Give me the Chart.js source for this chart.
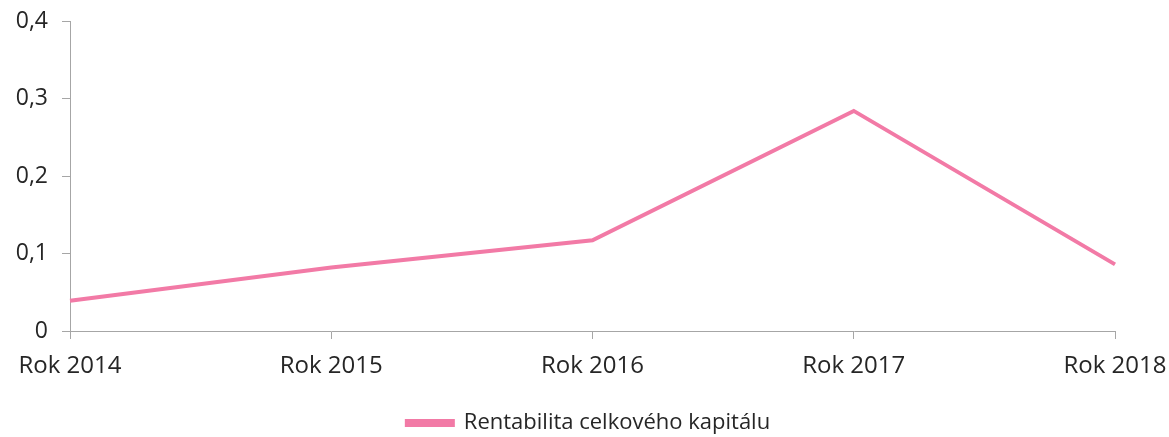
<!DOCTYPE html>
<html>
<head>
<meta charset="utf-8">
<script src="https://cdn.jsdelivr.net/npm/chart.js@4/dist/chart.umd.min.js"></script>
<style>
  html, body { margin: 0; padding: 0; background: #fff; }
  #wrap { width: 1169px; height: 437px; }
</style>
</head>
<body>
<div id="wrap"><canvas id="chart"></canvas></div>
<script>
const years = ["Rok 2014", "Rok 2015", "Rok 2016", "Rok 2017", "Rok 2018"];
const rentabilita = [0.039, 0.082, 0.117, 0.284, 0.086];
const seriesName = "Rentabilita celkového kapitálu";

const axisGray = "#a6a6a6";
const textColor = "#262626";

// legend in the original sits a bit right of centre
const shiftLegend = {
  id: "shiftLegend",
  afterLayout(chart) {
    chart.legend.left += 26;
    chart.legend.right += 26;
  },
};

new Chart(document.querySelector("#chart"), {
  type: "line",
  data: {
    labels: years,
    datasets: [
      {
        label: seriesName,
        data: rentabilita,
        borderColor: "#f27aa6",
        backgroundColor: "#f27aa6",
        borderWidth: 4,
        pointRadius: 0,
        tension: 0,
      },
    ],
  },
  options: {
    responsive: true,
    maintainAspectRatio: false,
    animation: false,
    layout: { padding: { top: 21, right: 54, left: 10, bottom: -7 } },
    scales: {
      x: {
        offset: false,
        grid: { drawOnChartArea: false, drawTicks: true, tickLength: 8, color: axisGray },
        border: { color: axisGray },
        ticks: {
          color: textColor,
          font: { family: "Open Sans", size: 24 },
          padding: 13,
          maxRotation: 0,
        },
        afterFit: (scale) => {
          scale.height = 77;
          scale.paddingLeft = 0;
          scale.paddingRight = 0;
        },
      },
      y: {
        min: 0,
        max: 0.4,
        grid: { drawOnChartArea: false, drawTicks: true, tickLength: 8, color: axisGray },
        border: { color: axisGray },
        ticks: {
          stepSize: 0.1,
          color: textColor,
          font: { family: "Open Sans", size: 23 },
          padding: 14,
          callback: (v) => (v === 0 ? "0" : v.toFixed(1).replace(".", ",")),
        },
        afterFit: (scale) => {
          scale.width = 60;
          scale.paddingTop = 0;
          scale.paddingBottom = 0;
        },
      },
    },
    plugins: {
      legend: {
        position: "bottom",
        labels: {
          color: textColor,
          font: { family: "Open Sans", size: 22 },
          boxWidth: 46,
          boxHeight: 4,
          padding: 4,
        },
      },
      tooltip: { enabled: false },
    },
  },
  plugins: [shiftLegend],
});
</script>
</body>
</html>
